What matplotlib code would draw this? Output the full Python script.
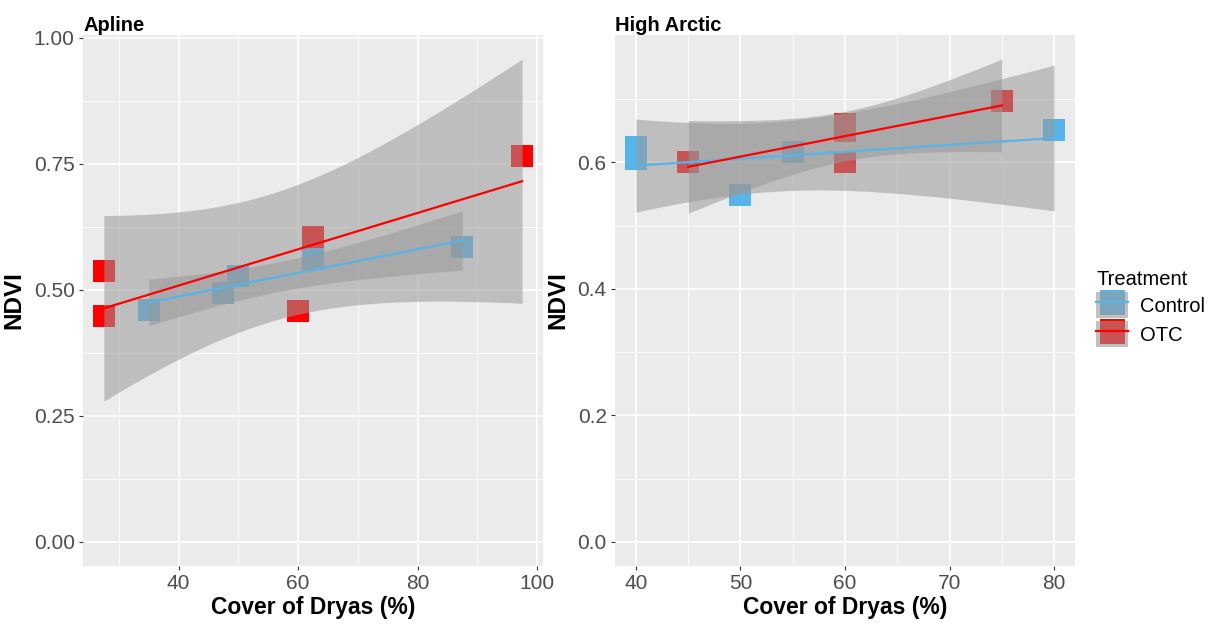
import numpy as np
import matplotlib
matplotlib.use("Agg")
import matplotlib.pyplot as plt
from matplotlib.lines import Line2D
from matplotlib.patches import Patch
from matplotlib.legend_handler import HandlerTuple
from matplotlib.ticker import FixedLocator, FormatStrFormatter

plt.rcParams['font.family'] = ['Liberation Sans', 'DejaVu Sans']

ctrl_col = "#56B4E9"
otc_col = "red"
band_col = "#999999"
band_alpha = 0.55

# Apline
alp_ctrl_x = [35, 47.5, 50, 62.5, 87.5]
alp_ctrl_y = [0.460, 0.494, 0.527, 0.561, 0.584]
alp_otc_x = [27.5, 27.5, 60, 62.5, 97.5]
alp_otc_y = [0.538, 0.447, 0.457, 0.604, 0.765]

# High Arctic
arc_ctrl_x = [40, 40, 50, 55, 80]
arc_ctrl_y = [0.624, 0.606, 0.548, 0.617, 0.651]
arc_otc_x = [45, 60, 60, 60, 75]
arc_otc_y = [0.600, 0.600, 0.661, 0.650, 0.697]

# 97.5% t quantiles for the lm confidence band
T975 = {1: 12.706, 2: 4.303, 3: 3.182, 4: 2.776, 5: 2.571, 6: 2.447}


def lm_band(x, y, n=80):
    x = np.asarray(x, float)
    y = np.asarray(y, float)
    b, a = np.polyfit(x, y, 1)
    xs = np.linspace(x.min(), x.max(), n)
    fit = a + b * xs
    resid = y - (a + b * x)
    df = len(x) - 2
    s = np.sqrt((resid ** 2).sum() / df)
    se = s * np.sqrt(1 / len(x) + (xs - x.mean()) ** 2 / ((x - x.mean()) ** 2).sum())
    t = T975[df]
    return xs, fit, fit - t * se, fit + t * se


def panel(ax, title, groups, xmajor, xminor, ymajor, yminor, yfmt):
    ax.set_facecolor('#EBEBEB')
    for s in ax.spines.values():
        s.set_visible(False)
    allx, ally = [], []
    for x, y, col in groups:
        ax.plot(x, y, 's', color=col, ms=16.5, mew=0, zorder=2)
        allx += list(x)
        ally += list(y)
    for x, y, col in groups:
        xs, fit, lo, hi = lm_band(x, y)
        ax.fill_between(xs, lo, hi, color=band_col, alpha=band_alpha, lw=0, zorder=3)
        ax.plot(xs, fit, color=col, lw=1.6, zorder=4)
        ally += [lo.min(), hi.max()]
    ally.append(0)
    x0, x1 = min(allx), max(allx)
    y0, y1 = min(ally), max(ally)
    ax.set_xlim(x0 - 0.05 * (x1 - x0), x1 + 0.05 * (x1 - x0))
    ax.set_ylim(y0 - 0.05 * (y1 - y0), y1 + 0.05 * (y1 - y0))
    ax.xaxis.set_major_locator(FixedLocator(xmajor))
    ax.xaxis.set_minor_locator(FixedLocator(xminor))
    ax.yaxis.set_major_locator(FixedLocator(ymajor))
    ax.yaxis.set_minor_locator(FixedLocator(yminor))
    ax.yaxis.set_major_formatter(FormatStrFormatter(yfmt))
    ax.grid(which='major', color='white', lw=1.2)
    ax.grid(which='minor', color='white', lw=0.6)
    ax.set_axisbelow(True)
    ax.tick_params(which='major', length=3, color='#333333', labelcolor='#4D4D4D',
                   labelsize=15, pad=3)
    ax.tick_params(which='minor', length=0)
    ax.set_title(title, loc='left', fontweight='bold', fontsize=14.5, pad=3)
    ax.set_xlabel('Cover of Dryas (%)', fontweight='bold', fontsize=16.5, labelpad=2)
    ax.set_ylabel('NDVI', fontweight='bold', fontsize=17.5, labelpad=6)


fig = plt.figure(figsize=(12.1, 6.24), dpi=100)
ax1 = fig.add_axes([83 / 1210, 58 / 624, 460 / 1210, 531 / 624])
ax2 = fig.add_axes([615 / 1210, 58 / 624, 460 / 1210, 531 / 624])

panel(ax1, 'Apline',
      [(alp_ctrl_x, alp_ctrl_y, ctrl_col), (alp_otc_x, alp_otc_y, otc_col)],
      [40, 60, 80, 100], [30, 50, 70, 90],
      [0, 0.25, 0.5, 0.75, 1.0], [0.125, 0.375, 0.625, 0.875], '%.2f')
panel(ax2, 'High Arctic',
      [(arc_ctrl_x, arc_ctrl_y, ctrl_col), (arc_otc_x, arc_otc_y, otc_col)],
      [40, 50, 60, 70, 80], [45, 55, 65, 75],
      [0, 0.2, 0.4, 0.6], [0.1, 0.3, 0.5, 0.7], '%.1f')

handles = []
for col in [ctrl_col, otc_col]:
    handles.append((Patch(facecolor='#F2F2F2', edgecolor='none'),
                    Line2D([], [], marker='s', ls='', color=col, ms=18, mew=0),
                    Patch(facecolor=band_col, alpha=band_alpha, edgecolor='none'),
                    Line2D([], [], color=col, lw=1.6)))
leg = fig.legend(handles, ['Control', 'OTC'], title='Treatment',
                 handler_map={tuple: HandlerTuple(ndivide=1, pad=0)},
                 loc='upper left', bbox_to_anchor=(1078 / 1210, 1 - 252 / 624),
                 frameon=False, fontsize=14.5, title_fontsize=14.5,
                 handlelength=1.6, handleheight=1.6, handletextpad=0.6,
                 labelspacing=0.15, alignment='left')

fig.savefig('out.png', dpi=100)
